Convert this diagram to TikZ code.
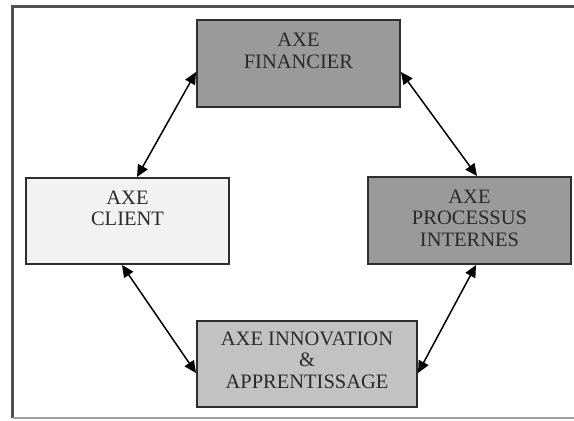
\documentclass[tikz,border=0pt]{standalone}
\usepackage{fontspec}
\setmainfont{Liberation Serif}
\usetikzlibrary{arrows.meta}
\definecolor{darkfill}{HTML}{9A9A9A}
\definecolor{lightfill}{HTML}{F2F2F2}
\definecolor{midfill}{HTML}{C2C2C2}
\definecolor{boxline}{HTML}{2E2E2E}
\definecolor{txtcol}{HTML}{2A2A2A}
\definecolor{frametop}{HTML}{505050}
\definecolor{framebot}{HTML}{A0A0A0}
\tikzset{
  axebox/.style={draw=boxline, line width=2pt, inner sep=0pt},
  axetext/.style={anchor=north, align=center, inner sep=0pt, text=txtcol,
    font=\fontsize{20.5}{21.5}\selectfont},
  link/.style={line width=1.5pt, draw=black, {Triangle[length=12pt,width=11pt]}-{Triangle[length=12pt,width=11pt]}},
  x=1pt, y=-1pt
}
\begin{document}
\begin{tikzpicture}
\useasboundingbox (0,0) rectangle (574,421);
% frame
\draw[frametop, line width=2.2pt] (574,6.5) -- (12.5,6.5) -- (12.5,418);
\draw[framebot, line width=1.8pt] (12.5,418) -- (574,418);
% boxes
\node[axebox, fill=darkfill, minimum width=203pt, minimum height=87pt] (fin) at (298.5,63.5) {};
\node[axebox, fill=lightfill, minimum width=203pt, minimum height=86pt] (cli) at (127.5,221) {};
\node[axebox, fill=darkfill, minimum width=203pt, minimum height=87pt] (pro) at (469.5,220.5) {};
\node[axebox, fill=midfill, minimum width=220pt, minimum height=86pt] (inn) at (307,364) {};
% texts
\node[axetext] (fint) at ([yshift=-14pt]fin.north) {AXE\\FINANCIER};
\node[axetext] (clit) at ([yshift=-13.5pt]cli.north) {AXE\\CLIENT};
\node[axetext] (prot) at ([yshift=-13.5pt]pro.north) {AXE\\PROCESSUS\\INTERNES};
\node[axetext] (innt) at ([yshift=-11.5pt]inn.north) {AXE INNOVATION\\\&\\APPRENTISSAGE};
% connectors
\draw[link] ([xshift=9.5pt]cli.north) -- ([yshift=-8.5pt]fin.west);
\draw[link] ([xshift=7.5pt]pro.north) -- ([yshift=-8.5pt]fin.east);
\draw[link] ([xshift=-5.5pt]cli.south) -- ([yshift=-9pt]inn.west);
\draw[link] ([xshift=6.5pt]pro.south) -- ([yshift=-9pt]inn.east);
\end{tikzpicture}
\end{document}
